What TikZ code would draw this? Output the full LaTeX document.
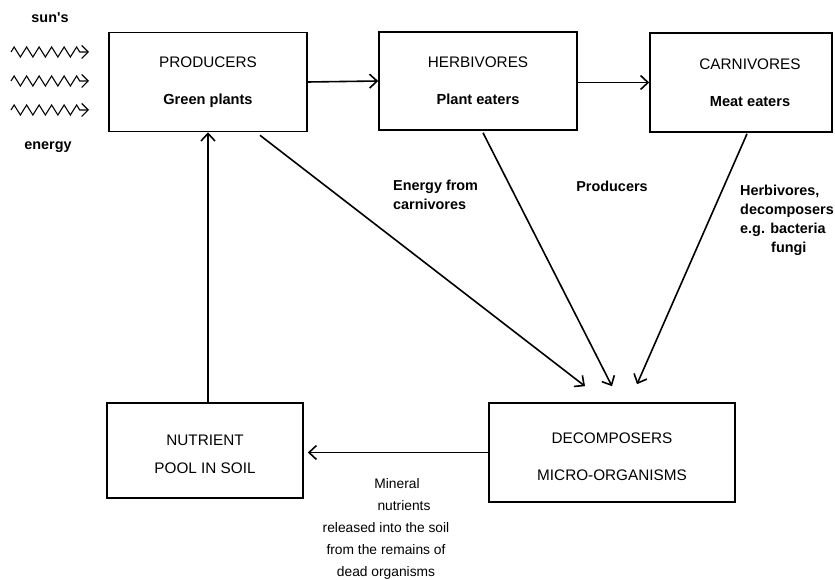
\documentclass[tikz,border=0pt]{standalone}
\usepackage{fontspec}
\setmainfont{Liberation Sans}
\usetikzlibrary{arrows.meta,decorations.pathmorphing,calc}
\begin{document}
\begin{tikzpicture}[x=1pt,y=-1pt,
  box/.style={draw, line width=1.6pt, rectangle, inner sep=0pt, align=center,
    font=\fontsize{15.3}{37}\selectfont},
  boxtext/.style={inner sep=0pt, align=center, font=\fontsize{15.3}{37}\selectfont},
  lbl/.style={inner sep=0pt, font=\bfseries\fontsize{14.4}{18.8}\selectfont},
  note/.style={inner sep=0pt, align=center, font=\fontsize{13.8}{22}\selectfont},
  link/.style={line width=1.6pt, -{Straight Barb[length=7.5pt,width=14pt,line width=1.6pt]}},
  wave/.style={line width=1.1pt, decorate,
    decoration={zigzag, segment length=12.5pt, amplitude=5pt, post length=4pt},
    -{Straight Barb[length=6.5pt,width=13pt,line width=1.1pt]}},
]
\fill[white] (0,0) rectangle (835,580);
\useasboundingbox (0,0) rectangle (835,580);

% trophic levels
\node[box, minimum width=198pt, minimum height=99pt] (prod) at (208,82)
  {PRODUCERS\\\bfseries\fontsize{14.6}{37}\selectfont Green plants};
\node[box, minimum width=198pt, minimum height=98pt] (herb) at (478,81)
  {HERBIVORES\\\bfseries\fontsize{14.6}{37}\selectfont Plant eaters};
\node[box, minimum width=182pt, minimum height=99pt] (carn) at (741,82.5) {};
\node[boxtext] (carntext) at (750,82.5)
  {CARNIVORES\\\bfseries\fontsize{14.6}{37}\selectfont Meat eaters};

% soil and decomposers
\node[box, minimum width=196pt, minimum height=95pt] (pool) at (205,450.5) {};
\node[boxtext, font=\fontsize{15.3}{28}\selectfont] (pooltext) at (205,454)
  {NUTRIENT\\POOL IN SOIL};
\node[box, minimum width=246pt, minimum height=99pt] (decomp) at (612,452.5) {};
\node[boxtext] (decomptext) at (612,456.5)
  {DECOMPOSERS\\MICRO-ORGANISMS};

% sunlight
\node[lbl] (sun) at (50,18) {sun\textquotesingle s};
\node[lbl] (energy) at (48,147) {energy};
\foreach \yy/\nm in {52/a,81/b,110/c}{
  \coordinate (ray\nm s) at (11,\yy);
  \coordinate (ray\nm e) at (89,\yy);
  \draw[wave] (ray\nm s) -- (ray\nm e);
}

% food chain
\draw[link] (prod.east) -- (herb.west);
\draw[link] (herb.east |- carn.west) -- (carn.west);

% nutrient cycle
\draw[link] (pool.north -| prod.south) -- (prod.south);
\draw[link, shorten >=4pt] (decomp.west) -- (decomp.west -| pool.east);

% flows to decomposers
\coordinate (dp) at ($(decomp.north)+(-27,-16)$);
\coordinate (dh) at ($(decomp.north)+(0,-16)$);
\coordinate (dc) at ($(decomp.north)+(25,-18)$);
\draw[link] ($(prod.south)+(52,3)$) -- (dp);
\draw[link] ($(herb.south)+(5,2)$) -- (dh);
\draw[link] ($(carn.south)+(6,1)$) -- (dc);

% labels
\node[lbl, align=left, anchor=west] (lenergy) at (393,194.5)
  {Energy from\\carnivores};
\node[lbl] (lprod) at (612,186) {Producers};
\node[lbl, align=left, anchor=west] (lherb) at (740,220.5)
  {Herbivores,\\decomposers\\e.g. bacteria\\\hspace*{31pt}fungi};
\node[note] (lmin) at (386,529)
  {\hspace*{22pt}Mineral\\\hspace*{36pt}nutrients\\released into the soil\\from the remains of\\dead organisms};
\end{tikzpicture}
\end{document}
